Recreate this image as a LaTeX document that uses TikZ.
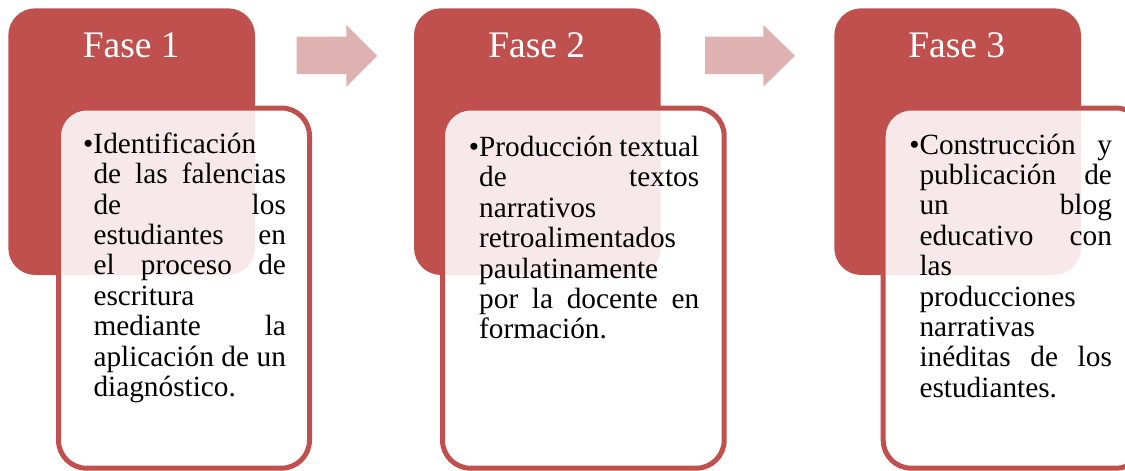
\documentclass[tikz,border=0pt]{standalone}
\usepackage{fontspec}
\setmainfont{Liberation Serif}
\definecolor{fasered}{RGB}{192,80,77}
\definecolor{arrowpink}{RGB}{222,178,177}
\newcommand\detailsetup{\tolerance=10000\relax\hyphenpenalty=10000\relax\emergencystretch=0pt\relax}
\tikzset{
  fasebox/.style={fill=fasered, draw=none, rounded corners=27pt, inner sep=0pt, outer sep=0pt},
  detailbox/.style={draw=fasered, line width=5pt, fill=white, fill opacity=0.88, draw opacity=1, rounded corners=28pt, inner sep=0pt, outer sep=0pt},
  fasetitle/.style={text=white, font={\fontsize{37.5}{40}\selectfont}, inner sep=0pt, anchor=base},
  detailtext/.style={anchor=base west, inner sep=0pt, align=justify, font={\fontsize{29.3}{30.4}\selectfont}, execute at begin node={\detailsetup}},
  steparrow/.style={fill=arrowpink, draw=none},
}
\begin{document}
\begin{tikzpicture}[x=1pt,y=-1pt]
\useasboundingbox (0,0) rectangle (1125,471);
\clip (0,0) rectangle (1125,471);
% Phase 1
\path[fasebox] (8.3,8.3) rectangle (255,275);
\node[fasetitle] (t1) at (131.2,57) {Fase 1};
\path[detailbox] (58.5,108) rectangle (309.5,468.2);
\node[detailtext, text width=192.4pt] (d1) at (93.3,153.3) {\llap{•}Identificación\newline
de las falencias\linebreak
de los\linebreak
estudiantes en\linebreak
el proceso de\linebreak
escritura\newline
mediante la\linebreak
aplicación de un\linebreak
diagnóstico.};
% Phase 2
\path[fasebox] (414,8.3) rectangle (660.7,275);
\node[fasetitle] (t2) at (536.7,57) {Fase 2};
\path[detailbox] (442.5,108) rectangle (724.2,468.2);
\node[detailtext, text width=220pt] (d2) at (479,156.5) {\llap{•}Producción textual\linebreak
de textos\linebreak
narrativos\newline
retroalimentados\newline
paulatinamente\newline
por la docente en\linebreak
formación.};
% Phase 3
\path[fasebox] (834.3,8.3) rectangle (1081,275);
\node[fasetitle] (t3) at (956.7,57) {Fase 3};
\path[detailbox] (883.2,108) rectangle (1144,468.2);
\node[detailtext, text width=192.4pt] (d3) at (919.3,154) {\llap{•}Construcción y\linebreak
publicación de\linebreak
un blog\linebreak
educativo con\linebreak
las\newline
producciones\newline
narrativas\newline
inéditas de los\linebreak
estudiantes.};
% Arrows
\fill[steparrow] (296.5,36.7) -- (346.3,36.7) -- (346.3,25) -- (377.3,55.8) -- (346.3,86.7) -- (346.3,74) -- (296.5,74) -- cycle;
\fill[steparrow] (705,36.7) -- (763.3,36.7) -- (763.3,25) -- (795,55.8) -- (763.3,86.7) -- (763.3,74) -- (705,74) -- cycle;
\end{tikzpicture}
\end{document}
